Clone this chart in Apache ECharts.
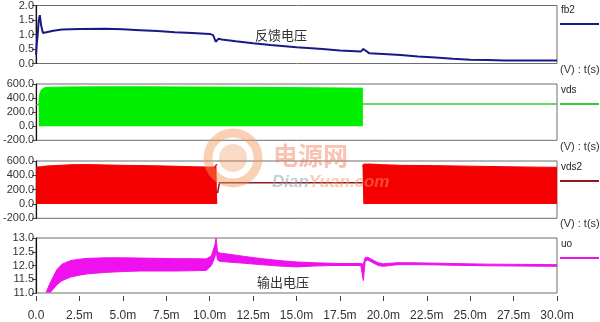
<!DOCTYPE html>
<html><head><meta charset="utf-8">
<script src="https://cdn.jsdelivr.net/npm/echarts@6/dist/echarts.min.js"></script>
<style>html,body{margin:0;padding:0;background:#fff}#c{width:600px;height:322px}</style>
</head><body><div id="c"></div>
<script>
// ---- data (time in ms) ----
const xTickLabels = ['0.0','2.5m','5.0m','7.5m','10.0m','12.5m','15.0m','17.5m','20.0m','22.5m','25.0m','27.5m','30.0m'];
const seriesNames = ['fb2','vds','vds2','uo'];

const fbTime  = [0,0.05,0.1,0.15,0.22,0.3,0.4,0.6,1.0,1.5,2.5,4,5,6,7,8,9,10,10.2,10.35,10.5,10.7,11.5,12.5,13.5,15,16.5,17.5,18.7,18.85,18.95,19.2,20,21,22,23,24,25,26,27,30];
const fbValue = [0.3,0.7,1.0,1.45,1.67,1.3,1.05,1.08,1.13,1.17,1.19,1.2,1.18,1.15,1.12,1.08,1.05,1.02,0.98,0.75,0.85,0.83,0.77,0.70,0.64,0.56,0.50,0.45,0.41,0.50,0.44,0.35,0.33,0.29,0.24,0.21,0.16,0.13,0.12,0.10,0.10];

const vdsTime  = [0.15,0.2,0.3,0.5,1,2,4,6,8,10,12,14,16,18,18.82];
const vdsUpper = [300,450,520,548,555,558,560,560,558,556,553,550,546,542,540];
const vdsOffTime  = [0,0.15,null,18.82,30];
const vdsOffValue = [300,310,null,315,315];

const vds2TimeA  = [0,0.3,0.4,0.6,1,2,3,4,5,6,7,8,9,10,10.3,10.38,10.43];
const vds2UpperA = [515,520,505,530,535,548,550,545,540,536,532,527,520,515,518,557,540];
const vds2OffTime  = [10.45,10.55,18.8];
const vds2OffValue = [150,295,295];
const vds2TimeB  = [18.8,18.84,19.2,20,21,23,25,27,29,30];
const vds2UpperB = [520,555,558,548,540,535,528,520,514,512];

const uoTime  = [0,0.5,0.6,0.8,1.0,1.2,1.5,2.0,2.5,3,4,5,6,7,8,9,9.8,10.1,10.3,10.37,10.45,10.6,11,12,13,14,15,16,17,18,18.7,18.85,18.95,19.1,19.4,19.7,20,20.4,20.8,21.5,22.5,24,26,28,30];
const uoUpper = [10.5,10.95,11.05,11.35,11.6,11.85,12.05,12.18,12.23,12.26,12.28,12.28,12.27,12.26,12.25,12.25,12.24,12.35,12.75,13.0,12.5,12.45,12.42,12.33,12.25,12.18,12.13,12.1,12.08,12.07,12.07,12.05,12.28,12.3,12.2,12.1,12.06,12.08,12.1,12.1,12.09,12.07,12.05,12.04,12.03];
const uoLower = [10.3,10.7,10.85,11.0,11.15,11.3,11.45,11.58,11.65,11.7,11.75,11.78,11.8,11.8,11.8,11.81,11.82,12.0,12.3,12.55,12.2,12.15,12.13,12.08,12.03,11.98,11.95,11.98,12.0,12.0,12.0,11.45,12.15,12.2,12.1,12.0,11.97,12.0,12.03,12.03,12.03,12.01,11.99,11.98,11.97];

// ---- build ----
const pairs = (t, v) => t.map((x, i) => (x === null ? [null, null] : [x, v[i]]));
const COL = {fb2:'#1a1a86', vds:'#00ee00', vdsLine:'#33cc33', vds2:'#f50000', vds2Line:'#8a1c1c', uo:'#ee11ee'};

const grids = [
  {left:36, width:521, top:5.5, height:58},
  {left:36, width:521, top:84, height:56.3},
  {left:36, width:521, top:161, height:57.3},
  {left:36, width:521, top:238, height:57.7}
].map(g => Object.assign(g, {show:true, borderColor:'#6e6e6e', borderWidth:1, backgroundColor:'#fff'}));

const labelFont = {fontFamily:'Liberation Sans, Arial, sans-serif', fontSize:11, color:'#333'};

const xAxes = grids.map((g, i) => ({
  type:'value', gridIndex:i, min:0, max:30, interval:2.5,
  show: i === 3, offset:3,
  axisLine:{show:false},
  axisTick:{show:true, length:5, lineStyle:{color:'#444'}},
  axisLabel:{show:true, margin:14, fontFamily:'Liberation Sans, Arial, sans-serif', fontSize:12, color:'#333',
    formatter:v => xTickLabels[Math.round(v/2.5)]},
  splitLine:{show:false}
}));

const yCfg = [[0,2,0.5],[-200,600,200],[-200,600,200],[11,13,0.5]];
const yAxes = yCfg.map((c, i) => ({
  type:'value', gridIndex:i, min:c[0], max:c[1], interval:c[2],
  axisLine:{show:true, lineStyle:{color:'#111', width:1.2}},
  axisTick:{show:true, length:4, lineStyle:{color:'#444'}},
  axisLabel:Object.assign({margin:2, formatter:v => v.toFixed(1)}, labelFont),
  splitLine:{show:false}
}));

const base = {type:'line', symbol:'none', animation:false};
const series = [
  Object.assign({}, base, {name:seriesNames[0], xAxisIndex:0, yAxisIndex:0, data:pairs(fbTime, fbValue),
    lineStyle:{color:COL.fb2, width:2}}),
  Object.assign({}, base, {name:seriesNames[1], xAxisIndex:1, yAxisIndex:1, data:pairs(vdsTime, vdsUpper),
    lineStyle:{color:COL.vds, width:1}, areaStyle:{color:COL.vds, opacity:1}}),
  Object.assign({}, base, {name:seriesNames[1]+'-off', xAxisIndex:1, yAxisIndex:1, data:pairs(vdsOffTime, vdsOffValue),
    lineStyle:{color:COL.vdsLine, width:1.5}, connectNulls:false}),
  Object.assign({}, base, {name:seriesNames[2]+'-a', xAxisIndex:2, yAxisIndex:2, data:pairs(vds2TimeA, vds2UpperA),
    lineStyle:{color:COL.vds2, width:1}, areaStyle:{color:COL.vds2, opacity:1}}),
  Object.assign({}, base, {name:seriesNames[2]+'-off', xAxisIndex:2, yAxisIndex:2, data:pairs(vds2OffTime, vds2OffValue),
    lineStyle:{color:COL.vds2Line, width:1.5}}),
  Object.assign({}, base, {name:seriesNames[2]+'-b', xAxisIndex:2, yAxisIndex:2, data:pairs(vds2TimeB, vds2UpperB),
    lineStyle:{color:COL.vds2, width:1}, areaStyle:{color:COL.vds2, opacity:1}}),
  {
    type:'custom', name:seriesNames[3], xAxisIndex:3, yAxisIndex:3, animation:false,
    data:[[0, 11]],
    renderItem:(params, api) => {
      const cs = params.coordSys;
      const up = uoTime.map((t, i) => api.coord([t, uoUpper[i]]));
      const lo = uoTime.map((t, i) => api.coord([t, uoLower[i]])).reverse();
      return {type:'polygon', shape:{points:up.concat(lo)},
        clipPath:{type:'rect', shape:{x:cs.x, y:cs.y - 1, width:cs.width, height:cs.height + 0.5}},
        style:{fill:COL.uo, stroke:COL.uo, lineWidth:1}};
    }
  }
];

// right-side legend
const legendCol = [COL.fb2, COL.vdsLine, COL.vds2Line, COL.uo];
const legendY = [11, 91, 168, 245];
const unitY = [71, 148, 225];
const graphic = [];
seriesNames.forEach((n, i) => {
  graphic.push({type:'text', left:561, top:legendY[i]-6, style:{text:n, fontFamily:'Liberation Sans, Arial, sans-serif', fontSize:10, fill:'#222'}});
  graphic.push({type:'line', shape:{x1:560, y1:legendY[i]+13, x2:599, y2:legendY[i]+13}, style:{stroke:legendCol[i], lineWidth:2}});
});
unitY.forEach(y => graphic.push({type:'text', left:560, top:y-7, style:{text:'(V) : t(s)', fontFamily:'Liberation Sans, Arial, sans-serif', fontSize:11, fill:'#333'}}));
graphic.push({type:'text', x:281, y:35, style:{text:'反馈电压', fontFamily:'Noto Sans CJK SC', fontSize:13, fill:'#333', align:'center', verticalAlign:'middle'}, z:50});
graphic.push({type:'text', x:283, y:282, style:{text:'输出电压', fontFamily:'Noto Sans CJK SC', fontSize:13, fill:'#333', align:'center', verticalAlign:'middle'}, z:50});
// watermark
graphic.push({type:'circle', shape:{cx:233, cy:158, r:25}, style:{fill:'none', stroke:'rgba(245,150,90,0.45)', lineWidth:9}, z:60});
graphic.push({type:'circle', shape:{cx:233, cy:158, r:14}, style:{fill:'rgba(240,130,70,0.3)'}, z:60});
graphic.push({type:'text', x:273, y:155, style:{text:'电源网', fontFamily:'Noto Sans CJK SC', fontWeight:'bold', fontSize:25, fill:'rgba(240,110,70,0.42)', verticalAlign:'middle'}, z:60});
graphic.push({type:'text', x:272, y:182, style:{
  text:'{a|Dian}{b|Yuan.com}', verticalAlign:'middle',
  rich:{a:{fontFamily:'Liberation Sans, Arial', fontStyle:'italic', fontWeight:'bold', fontSize:17, fill:'rgba(150,160,175,0.55)'},
        b:{fontFamily:'Liberation Sans, Arial', fontStyle:'italic', fontWeight:'bold', fontSize:17, fill:'rgba(245,150,100,0.5)'}}}, z:60});

const chart = echarts.init(document.getElementById('c'), null, {renderer:'canvas'});
chart.setOption({animation:false, backgroundColor:'#fff', grid:grids, xAxis:xAxes, yAxis:yAxes, series:series, graphic:graphic});
</script></body></html>
